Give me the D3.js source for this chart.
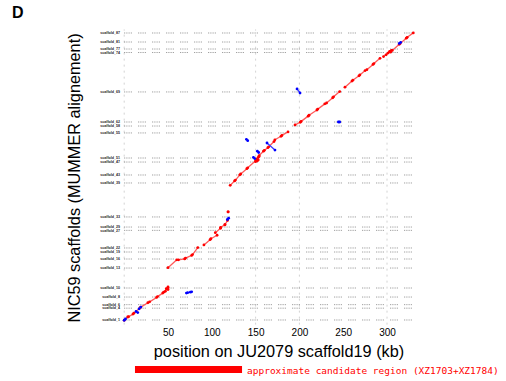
<!DOCTYPE html>
<html>
<head>
<meta charset="utf-8">
<script src="https://cdn.jsdelivr.net/npm/d3@7"></script>
<style>
  html, body { margin: 0; padding: 0; background: #fff; }
  svg { display: block; font-family: "Liberation Sans", Arial, sans-serif; }
</style>
</head>
<body>
<div id="chart"></div>
<script>
// x ticks (kb on JU2079 scaffold19)
const xTicks = [50, 100, 150, 200, 250, 300];

// vertical guide lines (kb)
const vLines = [0, 150, 200, 300];

// NIC59 scaffold boundaries (cumulative position) and their names
const rowPos = [329.9, 319.6, 311.6, 307.6, 262.6, 228.3, 223.7, 215.8,
                187.2, 182.6, 167.8, 158.7, 119.9, 108.4, 104.6, 84.5,
                79.9, 71.9, 61.6, 38.8, 28.5, 19.8, 15.8, 2.3];
const rowNames = ["scaffold_87", "scaffold_81", "scaffold_77", "scaffold_74", "scaffold_69",
                  "scaffold_62", "scaffold_58", "scaffold_55", "scaffold_51", "scaffold_47",
                  "scaffold_43", "scaffold_39", "scaffold_33", "scaffold_29", "scaffold_27",
                  "scaffold_22", "scaffold_19", "scaffold_16", "scaffold_13", "scaffold_10",
                  "scaffold_8", "scaffold_6", "scaffold_4", "scaffold_1"];

// forward matches [x1, y1, x2, y2]
const redMatches = [
  [0, 2, 4, 5.7], [5, 6, 10, 9], [11, 10, 18, 16], [19, 17, 27, 22], [29, 23, 37, 28],
  [38, 29, 44, 33], [45, 34, 50, 39], [47, 35, 50, 40], [48, 38, 50, 37],
  [50, 62, 60, 71], [62, 71, 69, 72], [70, 73, 77, 76], [78, 77, 84, 85], [91, 88, 98, 94],
  [99, 95, 106, 99], [104, 102, 110, 107], [110, 108, 115, 111], [115, 111, 118, 116],
  [118.5, 125.6, 118.7, 125.8],
  [121, 156, 126, 161], [127, 162, 132, 168], [133, 169, 140, 175], [141, 176, 150, 184],
  [150, 183, 153, 188], [151, 186, 153, 185], [152, 184, 154, 189],
  [154, 190, 159, 195], [160, 196, 164, 199], [165, 200, 171, 206], [172, 208, 179, 212],
  [180, 213, 187, 217], [195, 225, 201, 228],
  [202, 229, 210, 235], [211, 236, 220, 242], [221, 243, 229, 249],
  [231, 250, 238, 256], [239, 257, 246, 263],
  [252, 268, 260, 275], [261, 276, 268, 281], [269, 282, 275, 287], [277, 288, 284, 294],
  [285, 295, 292, 301], [296, 303, 303, 309], [299, 305, 305, 310], [301, 307, 304, 308],
  [306, 310, 314, 317], [315, 318, 322, 324], [323, 325, 330, 330]
];

// reverse / repeat matches [x1, y1, x2, y2]
const blueMatches = [
  [0, 2, 1.5, 3.5], [13.5, 12, 15.5, 10.8], [17, 15, 19, 17],
  [71, 33, 72.5, 33.5], [75.5, 34, 77, 34.5], [117.8, 117, 119.2, 118.5],
  [139.5, 208.5, 141, 207], [147.5, 188, 149, 186.5], [152, 195, 153.5, 193.5],
  [163, 204.3, 172.1, 196.3], [197.3, 266, 200.7, 261.4],
  [244.5, 228.3, 246, 228.3], [314, 318, 315.6, 319.2]
];

// approximate candidate region (kb)
const candidate = [12.3, 134.5];

const width = 506;
const height = 381;

const svg = d3.select('#chart')
  .append('svg')
  .attr('width', width)
  .attr('height', height);

const xScale = d3.scaleLinear().domain([0, 330]).range([124.2, 413.3]);
const yScale = d3.scaleLinear().domain([0, 330]).range([322, 32.9]);

// panel letter
svg.append('text')
  .attr('x', 12)
  .attr('y', 18)
  .attr('font-size', 16)
  .attr('font-weight', 'bold')
  .text('D');

// vertical guides
svg.append('g')
  .selectAll('line')
  .data(vLines)
  .join('line')
  .attr('x1', d => xScale(d))
  .attr('x2', d => xScale(d))
  .attr('y1', yScale(-3))
  .attr('y2', yScale(334))
  .attr('stroke', '#c8c8c8')
  .attr('stroke-width', 0.8)
  .attr('stroke-dasharray', '2,4');

// scaffold rows
const rows = svg.append('g');
rows.selectAll('line')
  .data(rowPos)
  .join('line')
  .attr('x1', xScale(0))
  .attr('x2', xScale(330))
  .attr('y1', d => yScale(d))
  .attr('y2', d => yScale(d))
  .attr('stroke', '#8a8a8a')
  .attr('stroke-width', 1)
  .attr('stroke-dasharray', '1,1.2,1,1.2,1,1.2,1,6.4');

rows.selectAll('text')
  .data(rowPos)
  .join('text')
  .attr('x', 120)
  .attr('y', d => yScale(d) + 1.2)
  .attr('text-anchor', 'end')
  .attr('font-size', 3.6)
  .attr('font-weight', 'bold')
  .attr('fill', '#222')
  .text((d, i) => rowNames[i]);

// matches
function drawMatches(data, color, lineColor) {
  const g = svg.append('g');
  g.selectAll('line')
    .data(data)
    .join('line')
    .attr('x1', d => xScale(d[0]))
    .attr('y1', d => yScale(d[1]))
    .attr('x2', d => xScale(d[2]))
    .attr('y2', d => yScale(d[3]))
    .attr('stroke', lineColor)
    .attr('stroke-width', 1.3)
    .attr('stroke-linecap', 'round');
  const ends = data.flatMap(d => [[d[0], d[1]], [d[2], d[3]]]);
  g.selectAll('circle')
    .data(ends)
    .join('circle')
    .attr('cx', d => xScale(d[0]))
    .attr('cy', d => yScale(d[1]))
    .attr('r', 1.4)
    .attr('fill', color);
}
drawMatches(redMatches, '#ff0000', '#ff5a5a');
drawMatches(blueMatches, '#0000ff', '#3a3aff');

// x axis (labels only)
const xAxis = d3.axisBottom(xScale)
  .tickValues(xTicks)
  .tickSize(0)
  .tickPadding(0);
const xAxisGroup = svg.append('g')
  .attr('transform', 'translate(0,329)')
  .call(xAxis);
xAxisGroup.select('.domain').remove();
xAxisGroup.selectAll('text')
  .attr('font-size', 10)
  .attr('font-family', '"Liberation Sans", Arial, sans-serif')
  .attr('fill', '#000');

// axis titles
svg.append('text')
  .attr('x', 279)
  .attr('y', 357)
  .attr('text-anchor', 'middle')
  .attr('font-size', 16.3)
  .text('position on JU2079 scaffold19 (kb)');

svg.append('text')
  .attr('transform', 'translate(80,178) rotate(-90)')
  .attr('text-anchor', 'middle')
  .attr('font-size', 16.3)
  .text('NIC59 scaffolds (MUMMER alignement)');

// candidate region
svg.append('rect')
  .attr('x', xScale(candidate[0]))
  .attr('y', 366)
  .attr('width', xScale(candidate[1]) - xScale(candidate[0]))
  .attr('height', 7)
  .attr('fill', '#ff0000');

svg.append('text')
  .attr('x', xScale(candidate[1]) + 5)
  .attr('y', 373.5)
  .attr('font-size', 9.5)
  .attr('font-family', '"DejaVu Sans Mono", monospace')
  .attr('fill', '#ff0000')
  .text('approximate candidate region (XZ1703+XZ1784)');
</script>
</body>
</html>
